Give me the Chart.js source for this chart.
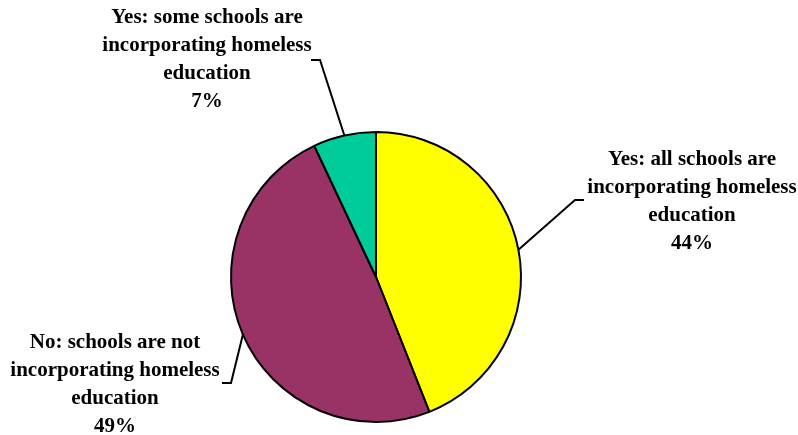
<!DOCTYPE html>
<html>
<head>
<meta charset="utf-8">
<script src="https://cdn.jsdelivr.net/npm/chart.js@4/dist/chart.umd.min.js"></script>
<style>
  html, body { margin: 0; padding: 0; background: #fff; }
  #wrap { width: 798px; height: 435px; }
</style>
</head>
<body>
<div id="wrap"><canvas id="schools-pie"></canvas></div>
<script>
// survey answers, clockwise from 12 o'clock
const answers = [
  ["Yes: all schools are", "incorporating homeless", "education"],
  ["No: schools are not", "incorporating homeless", "education"],
  ["Yes: some schools are", "incorporating homeless", "education"],
];
const shares = [44, 49, 7];
const sliceColors = ["#FFFF00", "#993366", "#00CC99"];

// where each callout sits: text centre x, first line y, leader elbow, leader tail x
const callouts = [
  { x: 692, y: 160, elbow: [575, 200], tail: 584 },
  { x: 115, y: 343, elbow: [231, 383], tail: 222 },
  { x: 207, y: 18, elbow: [320, 60], tail: 311 },
];

const calloutPlugin = {
  id: "callouts",
  afterDraw(chart) {
    const ctx = chart.ctx;
    const meta = chart.getDatasetMeta(0);
    ctx.save();
    meta.data.forEach((arc, i) => {
      const c = callouts[i];
      const mid = (arc.startAngle + arc.endAngle) / 2;
      const ex = arc.x + Math.cos(mid) * arc.outerRadius;
      const ey = arc.y + Math.sin(mid) * arc.outerRadius;

      // leader line
      ctx.strokeStyle = "#000";
      ctx.lineWidth = 2;
      ctx.beginPath();
      ctx.moveTo(ex, ey);
      ctx.lineTo(c.elbow[0], c.elbow[1]);
      ctx.lineTo(c.tail, c.elbow[1]);
      ctx.stroke();

      // label text + percentage
      ctx.fillStyle = "#000";
      ctx.font = "bold 21px 'Liberation Serif', 'Times New Roman', serif";
      ctx.textAlign = "center";
      ctx.textBaseline = "middle";
      const lines = answers[i].concat([shares[i] + "%"]);
      lines.forEach((t, k) => ctx.fillText(t, c.x, c.y + k * 28));
    });
    ctx.restore();
  },
};

new Chart(document.getElementById("schools-pie"), {
  type: "pie",
  data: {
    labels: answers.map((a) => a.join(" ")),
    datasets: [
      {
        data: shares,
        backgroundColor: sliceColors,
        borderColor: "#000",
        borderWidth: 2,
        hoverOffset: 0,
      },
    ],
  },
  options: {
    responsive: true,
    maintainAspectRatio: false,
    animation: false,
    layout: {
      padding: { top: 131, bottom: 12, left: 0, right: 46 },
    },
    plugins: {
      legend: { display: false },
      tooltip: { enabled: false },
      title: { display: false },
    },
  },
  plugins: [calloutPlugin],
});
</script>
</body>
</html>
